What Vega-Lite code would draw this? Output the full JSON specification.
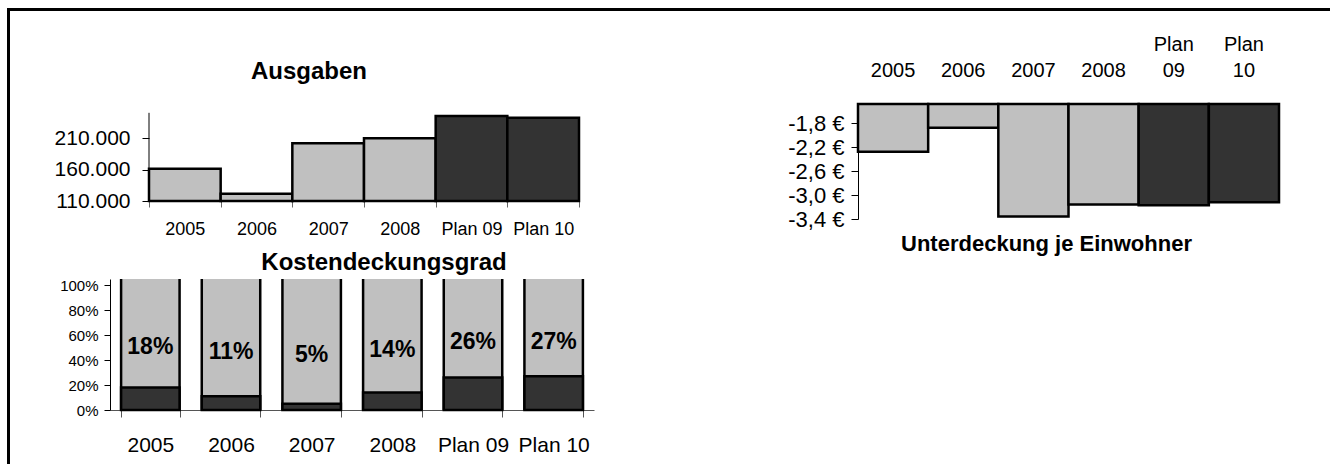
{
  "$schema": "https://vega.github.io/schema/vega-lite/v6.json",
  "background": "white",
  "padding": {"left": 8, "top": 9, "right": 0, "bottom": 0},
  "datasets": {
    "ausgaben": [
      {"jahr": "2005", "wert": 161300, "typ": "Ist"},
      {"jahr": "2006", "wert": 121600, "typ": "Ist"},
      {"jahr": "2007", "wert": 201600, "typ": "Ist"},
      {"jahr": "2008", "wert": 209500, "typ": "Ist"},
      {"jahr": "Plan 09", "wert": 244900, "typ": "Plan"},
      {"jahr": "Plan 10", "wert": 242200, "typ": "Plan"}
    ],
    "kosten": [
      {"jahr": "2005", "anteil": 0.18},
      {"jahr": "2006", "anteil": 0.11},
      {"jahr": "2007", "anteil": 0.05},
      {"jahr": "2008", "anteil": 0.14},
      {"jahr": "Plan 09", "anteil": 0.26},
      {"jahr": "Plan 10", "anteil": 0.27}
    ],
    "unter": [
      {"jahr": "2005", "wert": -2.28, "typ": "Ist"},
      {"jahr": "2006", "wert": -1.88, "typ": "Ist"},
      {"jahr": "2007", "wert": -3.36, "typ": "Ist"},
      {"jahr": "2008", "wert": -3.16, "typ": "Ist"},
      {"jahr": "Plan 09", "wert": -3.17, "typ": "Plan"},
      {"jahr": "Plan 10", "wert": -3.12, "typ": "Plan"}
    ],
    "leer": []
  },
  "spacing": -430,
  "align": "none",
  "vconcat": [
    {
      "width": 1322,
      "height": 455,
      "data": {"name": "leer"},
      "mark": "point",
      "encoding": {
        "x": {"field": "a", "type": "quantitative", "scale": {"domain": [0, 1]}, "axis": {"orient": "top", "domain": true, "domainColor": "black", "domainWidth": 3, "domainCap": "square", "ticks": false, "labels": false, "grid": false, "title": null}},
        "y": {"field": "b", "type": "quantitative", "scale": {"domain": [0, 1]}, "axis": {"orient": "left", "domain": true, "domainColor": "black", "domainWidth": 3, "domainCap": "square", "ticks": false, "labels": false, "grid": false, "title": null}}
      }
    },
    {
      "spacing": -4,
      "align": "none",
      "vconcat": [
        {
          "spacing": 0,
          "bounds": "flush",
          "hconcat": [
            {"width": 141, "height": 1, "data": {"name": "leer"}, "mark": "point"},
            {
              "width": 430,
              "height": 97,
              "data": {"name": "ausgaben"},
              "title": {"text": "Ausgaben", "fontSize": 24, "anchor": "middle", "frame": "group", "baseline": "alphabetic", "offset": 1, "dx": -55},
              "encoding": {
                "x": {"field": "jahr", "type": "nominal", "sort": null, "scale": {"paddingInner": 0, "paddingOuter": 0}, "axis": {"labelAngle": 0, "labelFontSize": 18, "labelBaseline": "alphabetic", "labelPadding": 27, "tickBand": "extent", "tickSize": 6, "tickColor": "#666666", "domainColor": "black", "title": null}}
              },
              "layer": [
                {
                  "mark": {"type": "bar", "stroke": "black", "strokeWidth": 2.5},
                  "encoding": {
                    "y": {"field": "wert", "type": "quantitative", "scale": {"domain": [110000, 264000], "nice": false, "zero": false}, "axis": {"values": [110000, 160000, 210000], "format": ",d", "labelFontSize": 21, "labelPadding": 12, "labelOverlap": false, "tickSize": 7, "tickColor": "black", "domain": false, "title": null}},
                    "y2": {"datum": 110000},
                    "fill": {"field": "typ", "type": "nominal", "scale": {"domain": ["Ist", "Plan"], "range": ["#C0C0C0", "#333333"]}, "legend": null}
                  }
                },
                {
                  "data": {"values": [{}]},
                  "mark": {"type": "rule", "color": "black", "strokeWidth": 1},
                  "encoding": {
                    "x": {"datum": "2005", "type": "nominal", "bandPosition": 0},
                    "y": {"datum": 110000, "type": "quantitative"},
                    "y2": {"datum": 250000}
                  }
                }
              ]
            },
            {"width": 279, "height": 1, "data": {"name": "leer"}, "mark": "point"},
            {
              "width": 421,
              "height": 115,
              "data": {"name": "unter"},
              "title": {"text": "Unterdeckung je Einwohner", "orient": "bottom", "fontSize": 22, "anchor": "middle", "frame": "group", "baseline": "alphabetic", "offset": 21, "dx": -22},
              "mark": {"type": "bar", "stroke": "black", "strokeWidth": 2.5},
              "encoding": {
                "x": {"field": "jahr", "type": "nominal", "sort": null, "scale": {"paddingInner": 0, "paddingOuter": 0}, "axis": {"orient": "top", "labelAngle": 0, "labelFontSize": 20, "labelExpr": "indexof(datum.label, ' ') > 0 ? split(datum.label, ' ') : ['', datum.label]", "labelLineHeight": 26.6, "labelPadding": 50, "ticks": false, "tickSize": 0, "domain": false, "title": null}},
                "y": {"field": "wert", "type": "quantitative", "scale": {"domain": [-3.4, -1.483], "nice": false, "zero": false}, "axis": {"values": [-1.8, -2.2, -2.6, -3.0, -3.4], "format": "$.1f", "labelFontSize": 22, "labelPadding": 7, "labelOverlap": false, "tickSize": 7, "tickColor": "black", "domainColor": "black", "title": null}},
                "y2": {"datum": -1.483},
                "fill": {"field": "typ", "type": "nominal", "scale": {"domain": ["Ist", "Plan"], "range": ["#C0C0C0", "#333333"]}, "legend": null}
              }
            }
          ]
        },
        {
          "spacing": 0,
          "bounds": "flush",
          "hconcat": [
            {"width": 102, "height": 1, "data": {"name": "leer"}, "mark": "point"},
            {
              "width": 484,
              "height": 131,
              "data": {"name": "kosten"},
              "transform": [{"calculate": "(1 + datum.anteil) / 2", "as": "mitte"}],
              "title": {"text": "Kostendeckungsgrad", "fontSize": 24, "anchor": "middle", "frame": "group", "baseline": "alphabetic", "offset": -16, "dx": 32},
              "encoding": {
                "x": {"field": "jahr", "type": "nominal", "sort": null, "scale": {"paddingInner": 0.275, "paddingOuter": 0.1375}, "axis": {"labelAngle": 0, "labelFontSize": 21, "labelBaseline": "alphabetic", "labelPadding": 34, "tickBand": "extent", "tickSize": 7, "tickColor": "#555555", "domainColor": "#555555", "title": null}}
              },
              "layer": [
                {
                  "mark": {"type": "bar", "fill": "#C0C0C0", "stroke": "black", "strokeWidth": 2.5, "clip": true},
                  "encoding": {
                    "y": {"datum": 1.2, "type": "quantitative", "scale": {"domain": [0, 1.048], "nice": false, "zero": true}, "axis": {"values": [0, 0.2, 0.4, 0.6, 0.8, 1], "tickCount": 6, "format": ".0%", "labelFontSize": 15, "labelPadding": 6, "labelOverlap": false, "tickSize": 6, "tickColor": "black", "domainColor": "black", "title": null}},
                    "y2": {"datum": 0}
                  }
                },
                {
                  "mark": {"type": "bar", "fill": "#333333", "stroke": "black", "strokeWidth": 2.5},
                  "encoding": {
                    "y": {"field": "anteil", "type": "quantitative", "scale": {"domain": [0, 1.048], "nice": false, "zero": true}, "axis": {"values": [0, 0.2, 0.4, 0.6, 0.8, 1], "tickCount": 6, "format": ".0%", "labelFontSize": 15, "labelPadding": 6, "labelOverlap": false, "tickSize": 6, "tickColor": "black", "domainColor": "black", "title": null}},
                    "y2": {"datum": 0}
                  }
                },
                {
                  "mark": {"type": "text", "fontSize": 23, "fontWeight": "bold", "dy": 11, "baseline": "middle", "color": "black"},
                  "encoding": {
                    "y": {"field": "mitte", "type": "quantitative", "scale": {"domain": [0, 1.048], "nice": false, "zero": true}, "axis": {"values": [0, 0.2, 0.4, 0.6, 0.8, 1], "tickCount": 6, "format": ".0%", "labelFontSize": 15, "labelPadding": 6, "labelOverlap": false, "tickSize": 6, "tickColor": "black", "domainColor": "black", "title": null}},
                    "text": {"field": "anteil", "type": "quantitative", "format": ".0%"}
                  }
                }
              ]
            }
          ]
        }
      ]
    }
  ],
  "config": {
    "font": "Liberation Sans",
    "view": {"stroke": null},
    "axis": {"labelColor": "black", "labelFont": "Liberation Sans", "grid": false, "labelOverlap": false},
    "title": {"color": "black", "font": "Liberation Sans", "fontWeight": "bold"},
    "locale": {"number": {"decimal": ",", "thousands": ".", "grouping": [3], "currency": ["", " €"], "minus": "-"}}
  }
}
